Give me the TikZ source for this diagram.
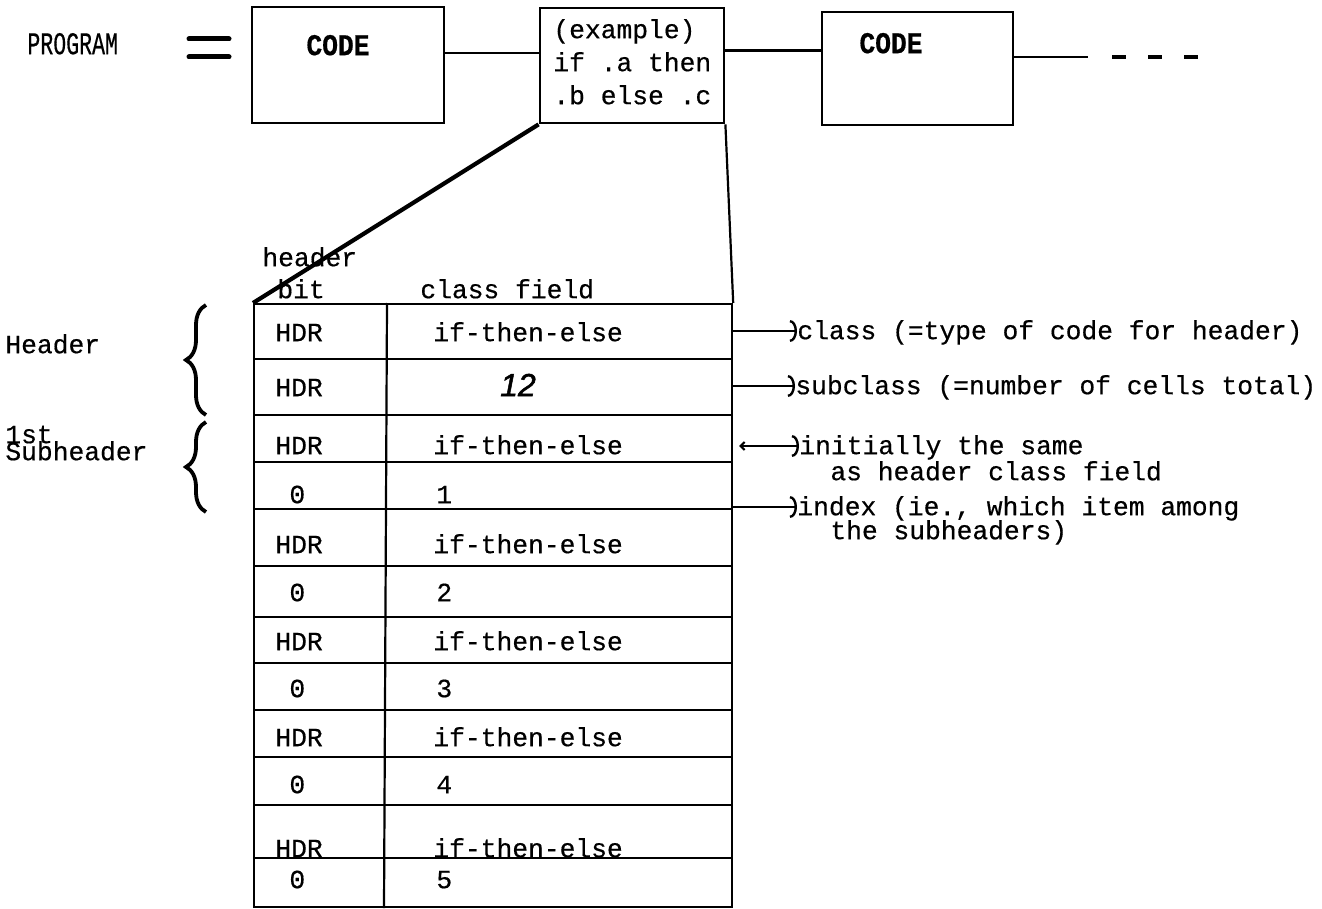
\documentclass[tikz,border=0pt]{standalone}
\usepackage{fontspec}
\setmainfont{Liberation Mono}[FakeBold=0.5]
\newfontfamily\handfont{Liberation Sans}[FakeBold=1.5]
\usetikzlibrary{arrows.meta,decorations.pathreplacing}
\newcommand{\tsize}{\fontsize{13.15}{16.5}\selectfont}
\begin{document}
\begin{tikzpicture}[x=0.5pt,y=-0.5pt,
  font=\tsize,
  box/.style={draw, line width=1.4pt, inner sep=0pt},
  txt/.style={inner sep=0pt, anchor=west, text height=1.55ex, text depth=0pt},
  ctxt/.style={inner sep=0pt, anchor=center, text height=1.55ex, text depth=0pt},
  gridline/.style={line width=1.1pt},
  conn/.style={line width=1.4pt},
  note/.style={line width=1pt, -{Arc Barb[length=3.5pt,width=11pt,line width=1.2pt]}},
  brc/.style={line width=1.9pt, decorate, decoration={brace, amplitude=10pt}}]

\useasboundingbox[fill=white] (0,0) rectangle (1322,909);

% ---------- top row ----------
\node[txt] (prog) at (27,46) {\scalebox{0.82}[1.2]{PROGRAM}};
\draw[line width=2.5pt, line cap=round] (189,39) -- (229,39);
\draw[line width=2.5pt, line cap=round] (189,57) -- (229,57);

\node[box, minimum width=96pt, minimum height=58pt] (box1) at (348,65) {};
\node[ctxt, font=\tsize\bfseries] (code1) at (338,47) {\scalebox{1}[1.15]{CODE}};

\node[box, minimum width=92pt, minimum height=57.5pt] (box2) at (632,65.5) {};
\node[txt] (ex1) at (553,30) {(example)};
\node[txt] (ex2) at (553,63) {if .a then};
\node[txt] (ex3) at (553,96) {.b else .c};

\node[box, minimum width=95.5pt, minimum height=56.5pt] (box3) at (917.5,68.5) {};
\node[ctxt, font=\tsize\bfseries] (code3) at (891,45) {\scalebox{1}[1.15]{CODE}};

\draw[conn] ([yshift=6pt]box1.east) -- ([yshift=6pt]box1.east -| box2.west);
\draw[conn] ([yshift=7.5pt]box2.east) -- ([yshift=7.5pt]box2.east -| box3.west);
\coordinate (tail) at (1088,57);
\draw[conn] (box3.east |- tail) -- (tail);
\draw[line width=2.3pt, dash pattern=on 7pt off 11pt] (1112,57) -- (1200,57);

% ---------- table ----------
\node[draw, line width=1.1pt, minimum width=239pt, minimum height=301.5pt,
      inner sep=0pt, anchor=north west] (tbl) at (253,303) {};
\draw[gridline] ([xshift=67pt]tbl.north west) -- ([xshift=65.5pt]tbl.south west);
\foreach \yy in {359,415,462,509,566,617,663,710,757,805,858}
  \draw[gridline] (253,\yy) -- (731,\yy);

\draw[line width=2.1pt] (box2.south west) -- (tbl.north west);
\draw[line width=1.1pt] (box2.south east) -- (tbl.north east);

\node[txt] (hb1) at (262,258) {header};
\node[txt] (hb2) at (277,290) {bit};
\node[txt] (cf) at (420,290) {class field};

\node[txt] (r1a) at (275,333) {HDR};
\node[txt] (r1b) at (433,333) {if-then-else};
\node[txt] (r2a) at (275,388) {HDR};
\node[ctxt, font=\handfont\itshape\fontsize{16}{18}\selectfont] (r2b) at (518,388) {12};
\node[txt] (r3a) at (275,446) {HDR};
\node[txt] (r3b) at (433,446) {if-then-else};
\node[txt] (r4a) at (289,495) {0};
\node[txt] (r4b) at (436,495) {1};
\node[txt] (r5a) at (275,545) {HDR};
\node[txt] (r5b) at (433,545) {if-then-else};
\node[txt] (r6a) at (289,593) {0};
\node[txt] (r6b) at (436,593) {2};
\node[txt] (r7a) at (275,642) {HDR};
\node[txt] (r7b) at (433,642) {if-then-else};
\node[txt] (r8a) at (289,689) {0};
\node[txt] (r8b) at (436,689) {3};
\node[txt] (r9a) at (275,738) {HDR};
\node[txt] (r9b) at (433,738) {if-then-else};
\node[txt] (r10a) at (289,785) {0};
\node[txt] (r10b) at (436,785) {4};
\node[txt] (r11a) at (275,849) {HDR};
\node[txt] (r11b) at (433,849) {if-then-else};
\node[txt] (r12a) at (289,880) {0};
\node[txt] (r12b) at (436,880) {5};

% ---------- left labels ----------
\node[txt] (lhdr) at (5,345) {Header};
\node[txt] (l1st) at (5,435) {1st};
\node[txt] (lsub) at (5,452) {Subheader};
\draw[brc] (206,415) -- (206,305);
\draw[brc] (206,512) -- (206,422);

% ---------- right notes ----------
\node[txt] (n1) at (797,331) {class (=type of code for header)};
\node[txt] (n2) at (795,386) {subclass (=number of cells total)};
\node[txt] (n3) at (799,446) {initially the same};
\node[txt] (n3b) at (830,472) {as header class field};
\node[txt] (n4) at (797,507) {index (ie., which item among};
\node[txt] (n4b) at (830,531) {the subheaders)};

\draw[note] (tbl.east |- n1.west) -- (n1.west);
\draw[note] (tbl.east |- n2.west) -- (n2.west);
\draw[note, {Straight Barb[length=2pt,width=4pt]}-{Arc Barb[length=3.5pt,width=11pt,line width=1.2pt]}]
  ([xshift=3pt]tbl.east |- n3.west) -- (n3.west);
\draw[note] (tbl.east |- n4.west) -- (n4.west);
\end{tikzpicture}
\end{document}
